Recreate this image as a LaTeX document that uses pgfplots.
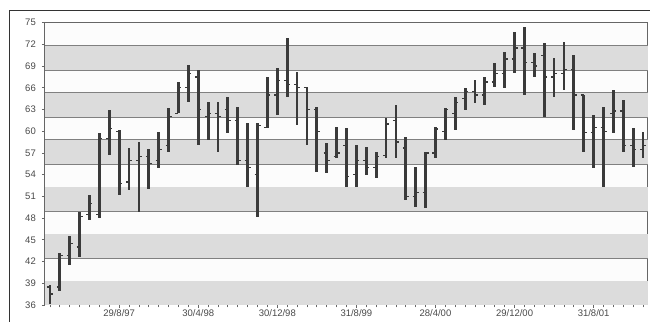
\documentclass[border=0pt]{standalone}
\usepackage{pgfplots}
\pgfplotsset{compat=1.18}
\usepackage{pgfplotstable}
\usepackage{fontspec}
\setmainfont{Liberation Sans}

\definecolor{band}{HTML}{DCDCDC}
\definecolor{paper}{HTML}{FCFCFC}
\definecolor{gridc}{HTML}{808080}
\definecolor{barc}{HTML}{3A3A3A}
\definecolor{labelc}{HTML}{4A4A4A}

% open tick to the left, close tick to the right
\pgfdeclareplotmark{tickR}{%
  \pgfpathmoveto{\pgfqpoint{0pt}{0pt}}%
  \pgfpathlineto{\pgfqpoint{\pgfplotmarksize}{0pt}}%
  \pgfusepathqstroke}
\pgfdeclareplotmark{tickL}{%
  \pgfpathmoveto{\pgfqpoint{-\pgfplotmarksize}{0pt}}%
  \pgfpathlineto{\pgfqpoint{0pt}{0pt}}%
  \pgfusepathqstroke}

% monthly open / high / low / close
\pgfplotstableread{
i  O     H     L     C
0  38.5  38.8  36.2  37.5
1  38.5  43.2  38.0  42.8
2  42.8  45.6  41.5  44.5
3  44.0  48.8  42.6  48.2
4  48.5  51.2  47.7  50.0
5  48.5  59.8  48.0  59.0
6  59.0  63.0  56.7  60.4
7  60.0  60.2  51.2  52.8
8  53.0  57.7  51.9  56.0
9  56.0  58.5  48.8  56.5
10 56.5  57.5  52.0  55.5
11 56.0  59.9  54.9  57.5
12 58.0  63.2  57.1  62.0
13 62.5  66.8  62.5  66.0
14 66.0  69.2  64.0  68.0
15 67.5  68.5  58.1  63.0
16 62.0  64.0  58.8  62.5
17 62.5  64.0  57.1  62.0
18 63.0  64.7  59.8  61.5
19 61.5  63.3  55.3  56.0
20 56.0  61.1  52.3  55.0
21 54.0  61.1  48.2  60.8
22 60.5  67.5  60.4  65.0
23 65.0  68.7  62.2  67.0
24 67.0  72.9  64.7  66.5
25 66.5  68.2  60.9  66.0
26 66.0  66.1  58.1  63.0
27 63.0  63.3  54.4  60.0
28 57.0  58.4  54.2  56.0
29 56.5  60.6  56.3  57.0
30 58.0  60.4  52.3  53.8
31 54.0  58.1  52.3  56.0
32 56.0  57.8  53.9  55.0
33 55.0  57.1  53.6  56.5
34 56.7  61.8  56.3  61.0
35 61.5  63.6  56.3  58.5
36 57.7  59.2  50.5  51.0
37 51.0  55.0  49.5  51.5
38 51.5  57.1  49.4  57.0
39 57.0  60.6  56.3  60.3
40 60.0  63.2  58.8  63.0
41 62.5  64.7  60.2  64.0
42 64.5  66.0  62.9  65.5
43 65.5  67.1  63.9  65.0
44 65.0  67.5  63.6  66.8
45 66.8  69.4  66.1  68.0
46 68.0  71.0  66.0  70.0
47 70.0  73.7  68.0  71.5
48 71.5  74.4  65.0  69.5
49 69.5  70.8  67.5  69.0
50 70.5  72.2  62.0  67.5
51 67.5  70.1  64.7  68.0
52 68.0  72.3  65.7  68.5
53 68.5  70.5  60.2  65.0
54 65.0  65.0  57.1  59.8
55 59.8  62.2  54.9  60.5
56 60.5  63.3  52.3  60.0
57 62.5  65.7  59.8  62.8
58 62.8  64.3  57.1  58.0
59 58.0  60.4  55.0  57.5
60 57.5  59.9  56.3  58.0
}\prices

\begin{document}
\begin{tikzpicture}
\path[use as bounding box] (-45pt,-16pt) rectangle (605pt,305pt);
\fill[white] (-45pt,-16pt) rectangle (605pt,305pt);
\draw[black!80, line width=1pt] (-35pt,-40pt) rectangle (640pt,294pt);
\begin{axis}[
  at={(0pt,0pt)}, anchor=south west,
  scale only axis, width=603pt, height=282.3pt,
  xmin=-0.5, xmax=60.5, ymin=36, ymax=75,
  axis background/.style={fill=paper},
  axis line style={draw=black!60, line width=1pt},
  tick style={draw=black!60, line width=0.8pt},
  tick align=outside,
  major tick length=3pt, minor tick length=2.5pt,
  ytick={36,39,...,75},
  xtick={7,15,...,55},
  xticklabels={29/8/97,30/4/98,30/12/98,31/8/99,28/4/00,29/12/00,31/8/01},
  minor xtick={0,...,60},
  extra y ticks={39.25,42.5,45.75,49,52.25,55.5,58.75,62,65.25,68.5,71.75},
  extra y tick labels={},
  extra y tick style={grid=major, major tick length=0pt},
  major grid style={draw=gridc, line width=1.7pt},
  xtick pos=bottom, ytick pos=left,
  /pgf/number format/assume math mode=true,
  ticklabel style={font=\fontsize{9.5}{10}\selectfont, text=labelc},
  xticklabel style={inner sep=1pt},
  yticklabel style={inner sep=2pt, xshift=-4pt},
  clip=false,
]
% alternating horizontal bands
\pgfplotsinvokeforeach{36,42.5,49,55.5,62,68.5}{
  \fill[band] (axis cs:-0.5,#1) rectangle (axis cs:60.5,#1+3.25);
}
% high-low bars with close ticks
\addplot[barc, line width=1.3pt, only marks, mark=tickR, mark size=3pt,
  error bars/.cd, y dir=both, y explicit,
  error bar style={barc, line width=2.8pt}, error mark=none]
  table[x=i, y=C,
        y error plus expr=\thisrow{H}-\thisrow{C},
        y error minus expr=\thisrow{C}-\thisrow{L}] {\prices};
% open ticks
\addplot[barc, line width=1.3pt, only marks, mark=tickL, mark size=3pt]
  table[x=i, y=O] {\prices};
\end{axis}
\end{tikzpicture}
\end{document}
